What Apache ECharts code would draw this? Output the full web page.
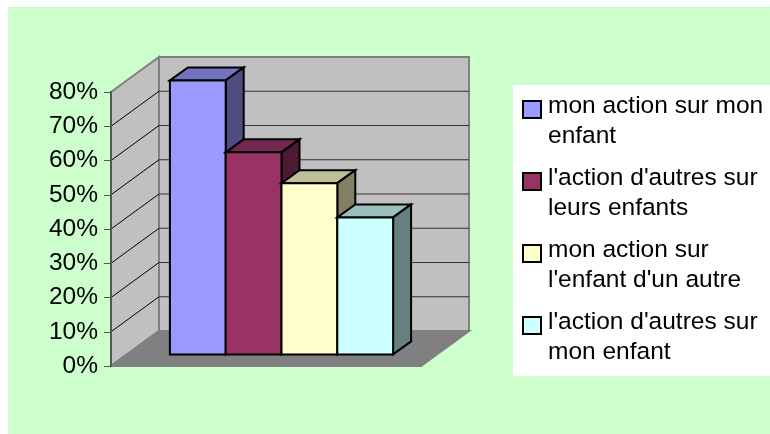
<!DOCTYPE html>
<html>
<head>
<meta charset="utf-8">
<style>html,body{margin:0;padding:0;background:#fff;overflow:hidden}</style>
<script src="https://cdn.jsdelivr.net/npm/echarts@6/dist/echarts.min.js"></script>
</head>
<body>
<div id="chart" style="position:absolute;left:8px;top:7px;width:762px;height:427px"></div>
<script>
var seriesNames = ["mon action sur mon\nenfant", "l'action d'autres sur\nleurs enfants", "mon action sur\nl'enfant d'un autre", "l'action d'autres sur\nmon enfant"];
var seriesValues = [80, 59, 50, 40];
var frontColors = ['#9999ff', '#993366', '#ffffcc', '#ccffff'];
var topColors = ['#7373bf', '#732650', '#bfbf99', '#99bfbf'];
var sideColors = ['#4d4d80', '#4d1a33', '#808066', '#668080'];
var yTicks = [10, 20, 30, 40, 50, 60, 70, 80];

// projection of the 3d box, in pixels
var wallDx = 48, wallDy = 35;
var barDx = 18, barDy = 13;
var gapDx = 15.5, gapDy = 11.6;
var barShare = 0.18;

function poly(points, fill, stroke, width) {
    return {
        type: 'polygon',
        shape: { points: points },
        style: { fill: fill, stroke: stroke, lineWidth: width, lineJoin: 'miter' }
    };
}

function line(x1, y1, x2, y2, color, width) {
    return {
        type: 'line',
        shape: { x1: x1, y1: y1, x2: x2, y2: y2 },
        style: { stroke: color, lineWidth: width }
    };
}

function renderWalls(params, api) {
    var size = api.size([1, 1]);
    var left = api.coord([0, 0])[0] - size[0] / 2;
    var right = left + size[0];
    var y0 = api.coord([0, 0])[1];
    var yTop = api.coord([0, 80])[1];
    var edge = '#808080';
    var kids = [
        poly([[left, y0], [left + wallDx, y0 - wallDy], [left + wallDx, yTop - wallDy], [left, yTop]], '#c0c0c0', edge, 2),
        poly([[left + wallDx, y0 - wallDy], [right + wallDx, y0 - wallDy], [right + wallDx, yTop - wallDy], [left + wallDx, yTop - wallDy]], '#c0c0c0', edge, 2),
        poly([[left, y0], [right, y0], [right + wallDx, y0 - wallDy], [left + wallDx, y0 - wallDy]], '#808080', edge, 2)
    ];
    for (var i = 0; i < yTicks.length - 1; i++) {
        var y = api.coord([0, yTicks[i]])[1];
        kids.push(line(left, y, left + wallDx, y - wallDy, '#000', 1));
        kids.push(line(left + wallDx, y - wallDy, right + wallDx, y - wallDy, '#333', 1));
    }
    return { type: 'group', children: kids };
}

function renderBar(params, api) {
    var idx = params.seriesIndex - 1;
    var size = api.size([1, 1]);
    var w = size[0] * barShare;
    var mid = api.coord([0, 0])[0];
    var x1 = mid + (idx - 2) * w + gapDx;
    var x2 = x1 + w;
    var y0 = api.coord([0, 0])[1] - gapDy;
    var y1 = api.coord([0, api.value(1)])[1] - gapDy;
    return {
        type: 'group',
        children: [
            poly([[x1, y1], [x1 + barDx, y1 - barDy], [x2 + barDx, y1 - barDy], [x2, y1]], topColors[idx], '#000', 2),
            poly([[x2, y1], [x2 + barDx, y1 - barDy], [x2 + barDx, y0 - barDy], [x2, y0]], sideColors[idx], '#000', 2),
            poly([[x1, y1], [x2, y1], [x2, y0], [x1, y0]], frontColors[idx], '#000', 2)
        ]
    };
}

var chart = echarts.init(document.getElementById('chart'));

var series = [{
    type: 'custom',
    silent: true,
    renderItem: renderWalls,
    data: [[0, 0]],
    z: 1
}];
seriesNames.forEach(function (name, i) {
    series.push({
        type: 'custom',
        name: name,
        renderItem: renderBar,
        itemStyle: { color: frontColors[i] },
        encode: { x: 0, y: 1 },
        data: [[0, seriesValues[i]]],
        z: 2 + i
    });
});

chart.setOption({
    backgroundColor: '#ccffcc',
    animation: false,
    textStyle: { fontFamily: 'Liberation Sans' },
    grid: { left: 103, top: 85, width: 310, height: 274 },
    xAxis: {
        type: 'category',
        data: [''],
        axisLine: { show: false },
        axisTick: { show: false },
        axisLabel: { show: false }
    },
    yAxis: {
        type: 'value',
        min: 0,
        max: 80,
        interval: 10,
        z: 5,
        splitLine: { show: false },
        axisLine: { show: true, lineStyle: { color: '#555', width: 2 } },
        axisTick: { show: true, length: 7, lineStyle: { color: '#555', width: 1 } },
        axisLabel: { formatter: '{value}%', color: '#000', fontSize: 24.5, margin: 13 }
    },
    legend: {
        orient: 'vertical',
        left: 505,
        top: 78,
        padding: [5, 8, 8, 9],
        backgroundColor: '#fff',
        itemWidth: 20,
        itemHeight: 60,
        itemGap: 10,
        selectedMode: false,
        // square sits near the top of a tall symbol box, beside the first text line
        icon: 'path://M0 0L0 0M20 0L20 0M0 10H18V27H0ZM0 60L0 60',
        textStyle: { fontSize: 24.5, lineHeight: 30, color: '#000', fontFamily: 'Liberation Sans' },
        itemStyle: { borderColor: '#000', borderWidth: 2 },
        data: seriesNames
    },
    series: series
});
</script>
</body>
</html>
